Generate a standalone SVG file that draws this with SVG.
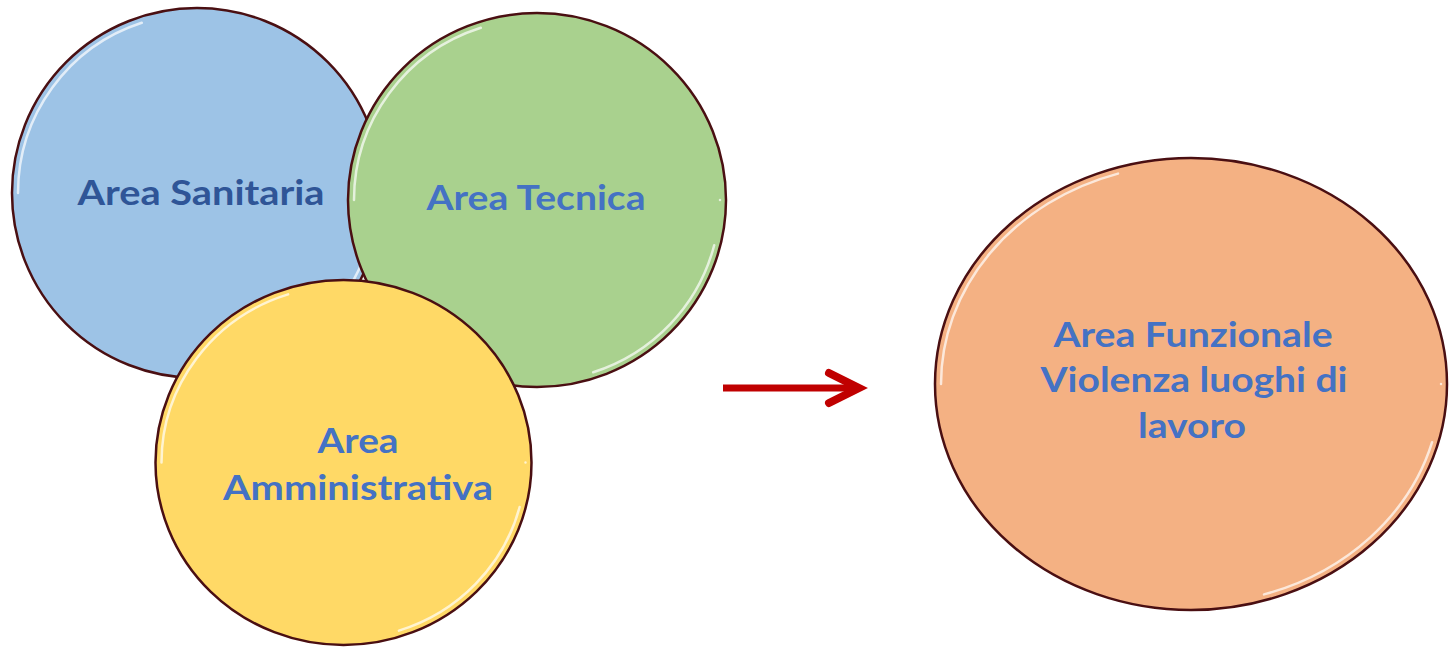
<svg xmlns="http://www.w3.org/2000/svg" width="1449" height="653" viewBox="0 0 1449 653">
<style>
.shape{stroke:#4a0f12;stroke-width:2.5}
.hl{fill:none;stroke:#ffffff;stroke-opacity:0.7;stroke-width:2.5;stroke-linecap:round;stroke-dasharray:0 4 16 30 20 30}
.lbl{font-family:Lato,"Open Sans","Liberation Sans",sans-serif;font-weight:bold;font-size:35px;fill:#4472C4;text-anchor:middle}
.dark{fill:#2F5597}
</style>
<rect width="1449" height="653" fill="#ffffff"/>
<g id="node-sanitaria">
<ellipse class="shape" cx="197" cy="193" rx="185" ry="185" fill="#9DC3E6"/>
<ellipse class="hl" cx="197" cy="193" rx="179" ry="179" pathLength="100"/>
<text class="lbl dark" x="201" y="205" textLength="247" lengthAdjust="spacingAndGlyphs">Area Sanitaria</text>
</g>
<g id="node-tecnica">
<ellipse class="shape" cx="537" cy="200" rx="189" ry="187" fill="#A9D18E"/>
<ellipse class="hl" cx="537" cy="200" rx="183" ry="181" pathLength="100"/>
<text class="lbl" x="536" y="210" textLength="219" lengthAdjust="spacingAndGlyphs">Area Tecnica</text>
</g>
<g id="node-amministrativa">
<ellipse class="shape" cx="343.5" cy="462.5" rx="188" ry="182.5" fill="#FFD966"/>
<ellipse class="hl" cx="343.5" cy="462.5" rx="182" ry="176.5" pathLength="100"/>
<text class="lbl" x="358" y="453" textLength="81" lengthAdjust="spacingAndGlyphs">Area</text>
<text class="lbl" x="358" y="500" textLength="270" lengthAdjust="spacingAndGlyphs">Amministrativa</text>
</g>
<g id="connectors">
<line x1="723" y1="388" x2="856" y2="388" stroke="#C00000" stroke-width="7"/>
<polyline points="829,373 859,388 829,403" fill="none" stroke="#C00000" stroke-width="8" stroke-linecap="round" stroke-linejoin="miter"/>
</g>
<g id="node-funzionale">
<ellipse class="shape" cx="1191" cy="384" rx="256" ry="226" fill="#F4B183"/>
<ellipse class="hl" cx="1191" cy="384" rx="250" ry="220" pathLength="100"/>
<text class="lbl" x="1193" y="347" textLength="279" lengthAdjust="spacingAndGlyphs">Area Funzionale</text>
<text class="lbl" x="1194" y="392" textLength="307" lengthAdjust="spacingAndGlyphs">Violenza luoghi di</text>
<text class="lbl" x="1192" y="438" textLength="108" lengthAdjust="spacingAndGlyphs">lavoro</text>
</g>
</svg>
